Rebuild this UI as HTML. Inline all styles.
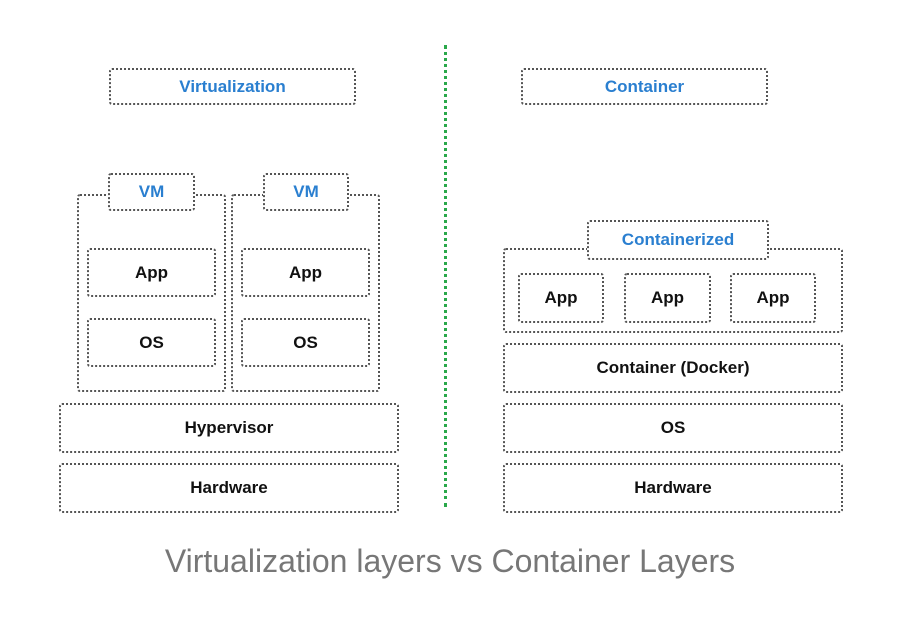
<!DOCTYPE html><html><head><style>
body{margin:0;width:900px;height:619px;background:#fff;position:relative;overflow:hidden;font-family:"Liberation Sans",sans-serif}
.b{position:absolute;box-sizing:border-box;border:2px dotted #555;border-radius:3px;background:#fff;display:flex;align-items:center;justify-content:center;font-weight:bold;font-size:17px;color:#111}
.bl{color:#2a7fd0}
.cap{position:absolute;left:0;width:900px;top:543px;text-align:center;font-size:32px;color:#777}
</style></head><body>
<div style="position:absolute;left:444px;top:45px;height:462px;border-left:3px dotted #2aa84a"></div>
<div class="b bl" style="left:109px;top:68px;width:247px;height:37px">Virtualization</div>
<div class="b bl" style="left:521px;top:68px;width:247px;height:37px">Container</div>
<div class="b" style="left:77px;top:194px;width:149px;height:198px"></div>
<div class="b" style="left:231px;top:194px;width:149px;height:198px"></div>
<div class="b bl" style="left:108px;top:173px;width:87px;height:38px">VM</div>
<div class="b bl" style="left:263px;top:173px;width:86px;height:38px">VM</div>
<div class="b" style="left:87px;top:248px;width:129px;height:49px">App</div>
<div class="b" style="left:87px;top:318px;width:129px;height:49px">OS</div>
<div class="b" style="left:241px;top:248px;width:129px;height:49px">App</div>
<div class="b" style="left:241px;top:318px;width:129px;height:49px">OS</div>
<div class="b" style="left:59px;top:403px;width:340px;height:50px">Hypervisor</div>
<div class="b" style="left:59px;top:463px;width:340px;height:50px">Hardware</div>
<div class="b" style="left:503px;top:248px;width:340px;height:85px"></div>
<div class="b bl" style="left:587px;top:220px;width:182px;height:40px">Containerized</div>
<div class="b" style="left:518px;top:273px;width:86px;height:50px">App</div>
<div class="b" style="left:624px;top:273px;width:87px;height:50px">App</div>
<div class="b" style="left:730px;top:273px;width:86px;height:50px">App</div>
<div class="b" style="left:503px;top:343px;width:340px;height:50px">Container (Docker)</div>
<div class="b" style="left:503px;top:403px;width:340px;height:50px">OS</div>
<div class="b" style="left:503px;top:463px;width:340px;height:50px">Hardware</div>
<div class="cap">Virtualization layers vs Container Layers</div>
</body></html>
